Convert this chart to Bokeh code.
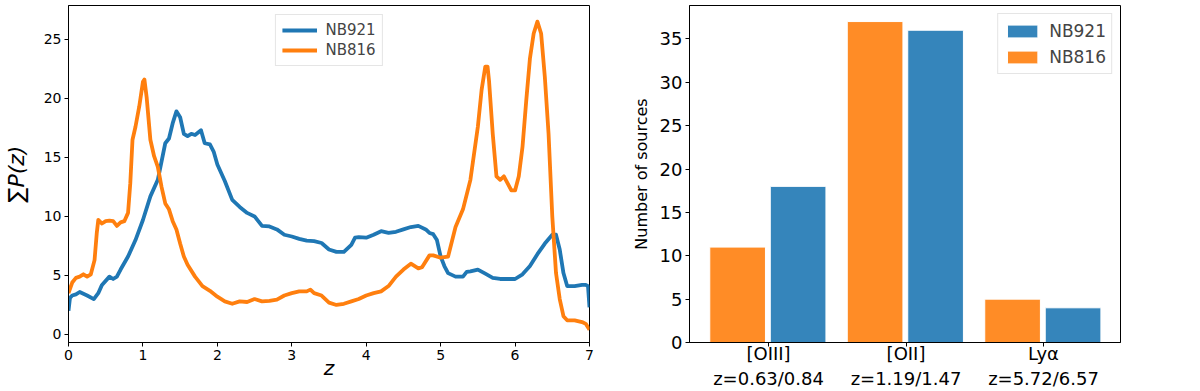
from bokeh.plotting import figure
from bokeh.layouts import row
from bokeh.models import FixedTicker, Range1d, Legend, LegendItem
from bokeh.embed import file_html
from bokeh.resources import INLINE

# ---- left panel data: summed P(z) ----
nb921_z = [0, 0.02, 0.05, 0.1, 0.15, 0.25, 0.34, 0.4, 0.45, 0.55, 0.6, 0.65, 0.7, 0.8, 0.9,
           1.0, 1.1, 1.2, 1.3, 1.35, 1.4, 1.45, 1.5, 1.55, 1.6, 1.65, 1.7, 1.78, 1.83, 1.9,
           1.95, 2.0, 2.1, 2.2, 2.3, 2.4, 2.5, 2.6, 2.7, 2.8, 2.9, 3.0, 3.1, 3.2, 3.3,
           3.4, 3.5, 3.6, 3.7, 3.8, 3.85, 3.9, 4.0, 4.1, 4.2, 4.3, 4.4, 4.5, 4.6, 4.7,
           4.8, 4.85, 4.9, 4.95, 5.0, 5.05, 5.1, 5.2, 5.3, 5.35, 5.4, 5.5, 5.6, 5.7, 5.8,
           5.9, 6.0, 6.1, 6.2, 6.3, 6.4, 6.5, 6.55, 6.6, 6.65, 6.7, 6.8, 6.9, 6.95, 6.98, 7.0]
nb921_pz = [2.0, 3.1, 3.3, 3.4, 3.6, 3.3, 3.0, 3.5, 4.2, 4.9, 4.7, 4.9, 5.5, 6.6, 8.0,
            9.7, 11.7, 13.1, 16.2, 16.6, 17.9, 18.9, 18.4, 17.0, 16.8, 17.0, 16.9, 17.3, 16.2, 16.1,
            15.5, 14.4, 13.0, 11.4, 10.8, 10.3, 10.0, 9.2, 9.15, 8.9, 8.45, 8.3, 8.1, 7.95, 7.9,
            7.75, 7.2, 7.0, 7.0, 7.6, 8.2, 8.25, 8.2, 8.45, 8.75, 8.6, 8.7, 8.9, 9.1, 9.2,
            8.9, 8.6, 8.5, 8.0, 6.6, 5.8, 5.2, 4.9, 4.9, 5.3, 5.35, 5.5, 5.15, 4.8, 4.7,
            4.7, 4.7, 5.1, 5.8, 6.8, 7.7, 8.45, 8.45, 7.2, 5.2, 4.1, 4.1, 4.2, 4.2, 4.1, 2.3]

nb816_z = [0, 0.05, 0.1, 0.15, 0.2, 0.25, 0.3, 0.35, 0.38, 0.4, 0.45, 0.5, 0.55, 0.6, 0.65,
           0.7, 0.75, 0.8, 0.83, 0.86, 0.9, 0.95, 1.0, 1.02, 1.05, 1.1, 1.15, 1.2, 1.25, 1.3,
           1.35, 1.4, 1.45, 1.5, 1.55, 1.6, 1.7, 1.8, 1.9, 2.0, 2.1, 2.2, 2.3, 2.4, 2.5,
           2.6, 2.7, 2.8, 2.9, 3.0, 3.1, 3.2, 3.25, 3.3, 3.4, 3.5, 3.6, 3.7, 3.8, 3.9,
           4.0, 4.1, 4.2, 4.3, 4.4, 4.5, 4.6, 4.7, 4.75, 4.85, 4.9, 5.0, 5.1, 5.2, 5.3,
           5.4, 5.5, 5.55, 5.6, 5.63, 5.65, 5.7, 5.75, 5.8, 5.85, 5.9, 5.95, 6.0, 6.05, 6.1,
           6.15, 6.2, 6.25, 6.3, 6.35, 6.4, 6.45, 6.5, 6.55, 6.6, 6.65, 6.7, 6.8, 6.9, 6.95, 7.0]
nb816_pz = [3.5, 4.4, 4.8, 4.9, 5.1, 4.9, 5.1, 6.3, 8.6, 9.7, 9.4, 9.6, 9.65, 9.6, 9.2,
            9.5, 9.6, 10.3, 12.8, 16.5, 17.6, 19.3, 21.4, 21.6, 20.1, 16.5, 15.1, 14.2, 12.5, 11.1,
            10.6, 9.6, 8.9, 7.7, 6.6, 5.9, 4.9, 4.1, 3.7, 3.2, 2.8, 2.6, 2.8, 2.75, 3.0,
            2.8, 2.85, 2.95, 3.3, 3.5, 3.65, 3.65, 3.8, 3.5, 3.3, 2.7, 2.5, 2.6, 2.8, 3.0,
            3.3, 3.5, 3.65, 4.1, 4.9, 5.5, 6.0, 5.6, 5.7, 6.7, 6.7, 6.5, 6.6, 9.1, 10.6,
            13.1, 17.6, 20.7, 22.7, 22.7, 21.5, 17.0, 13.4, 13.1, 13.4, 12.8, 12.2, 12.2, 13.4, 15.9,
            19.8, 23.4, 25.5, 26.5, 25.5, 21.8, 17.0, 10.0, 5.2, 3.0, 1.55, 1.2, 1.2, 1.05, 0.9, 0.4]

z_ticks = [0, 1, 2, 3, 4, 5, 6, 7]
pz_ticks = [0, 5, 10, 15, 20, 25]

# ---- right panel data: number of sources ----
lines = ["[OIII]\nz=0.63/0.84", "[OII]\nz=1.19/1.47", "Ly\u03b1\nz=5.72/6.57"]
nb816_counts = [11, 37, 5]
nb921_counts = [18, 36, 4]
count_ticks = [0, 5, 10, 15, 20, 25, 30, 35]

FONT = "DejaVu Sans"
BLUE = "#1f77b4"
ORANGE = "#ff7f0e"


def style_axes(p, tick_size):
    for ax in (p.xaxis[0], p.yaxis[0]):
        ax.axis_line_color = "black"
        ax.axis_line_width = 1
        ax.major_tick_line_color = "black"
        ax.major_tick_in = 0
        ax.major_tick_out = 4
        ax.minor_tick_line_color = None
        ax.major_label_text_font = FONT
        ax.major_label_text_font_size = tick_size
        ax.major_label_text_color = "black"
        ax.axis_label_text_font = FONT
        ax.axis_label_text_color = "black"
        ax.major_label_standoff = 3
    p.xgrid.visible = False
    p.ygrid.visible = False
    p.outline_line_color = "black"
    p.outline_line_width = 1
    p.outline_line_alpha = 1
    p.background_fill_color = "white"
    p.border_fill_color = "white"


# ---------------- left panel ----------------
p1 = figure(width=600, height=391, output_backend="svg", toolbar_location=None,
            x_range=Range1d(0, 7), y_range=Range1d(-0.68, 27.87),
            min_border_left=68, min_border_right=11, min_border_top=5, min_border_bottom=48)
style_axes(p1, "14px")
p1.xaxis.ticker = FixedTicker(ticks=z_ticks)
p1.yaxis.ticker = FixedTicker(ticks=pz_ticks)
p1.xaxis.axis_label = "z"
p1.xaxis.axis_label_text_font_style = "italic"
p1.xaxis.axis_label_text_font_size = "20px"
p1.xaxis.axis_label_standoff = -7
p1.yaxis.axis_label = "\u2211P(z)"
p1.yaxis.axis_label_text_font_style = "italic"
p1.yaxis.axis_label_text_font_size = "22px"
p1.yaxis.axis_label_standoff = 12

r921 = p1.line(nb921_z, nb921_pz, line_width=3.8, color=BLUE, line_join="round")
r816 = p1.line(nb816_z, nb816_pz, line_width=3.8, color=ORANGE, line_join="round")

leg1 = Legend(items=[LegendItem(label="NB921", renderers=[r921]),
                     LegendItem(label="NB816", renderers=[r816])],
              location="top_center", orientation="vertical")
leg1.margin = 9
leg1.padding = 6
leg1.spacing = 2
leg1.glyph_width = 35
leg1.glyph_height = 18
leg1.label_height = 18
leg1.label_standoff = 9
leg1.label_text_font = FONT
leg1.label_text_font_size = "15px"
leg1.border_line_color = "#cccccc"
leg1.border_line_width = 1
leg1.background_fill_alpha = 0.8
p1.add_layout(leg1)

# ---------------- right panel ----------------
p2 = figure(width=600, height=391, output_backend="svg", toolbar_location=None,
            x_range=Range1d(-0.575, 2.56), y_range=Range1d(0, 38.85),
            min_border_left=89, min_border_right=80, min_border_top=5, min_border_bottom=48)
style_axes(p2, "18px")
idx = list(range(len(lines)))
p2.xaxis.ticker = FixedTicker(ticks=idx)
p2.xaxis.major_label_overrides = {i: lab for i, lab in zip(idx, lines)}
p2.xaxis.major_label_text_font_size = "18px"
p2.xaxis.major_label_standoff = -4
p2.yaxis.ticker = FixedTicker(ticks=count_ticks)
p2.yaxis.axis_label = "Number of sources"
p2.yaxis.axis_label_text_font_size = "16px"
p2.yaxis.axis_label_text_font_style = "normal"
p2.yaxis.axis_label_standoff = 6

x816 = [i - 0.225 for i in idx]
x921 = [i + 0.215 for i in idx]
b816 = p2.vbar(x=x816, top=nb816_counts, width=0.405, bottom=0,
               fill_color="#ff8c26", line_color="white", line_width=1)
b921 = p2.vbar(x=x921, top=nb921_counts, width=0.405, bottom=0,
               fill_color="#3585bb", line_color="white", line_width=1)

leg2 = Legend(items=[LegendItem(label="NB921", renderers=[b921]),
                     LegendItem(label="NB816", renderers=[b816])],
              location="top_right", orientation="vertical")
leg2.margin = 8
leg2.padding = 5
leg2.spacing = 3
leg2.glyph_width = 38
leg2.glyph_height = 16
leg2.label_height = 23
leg2.label_standoff = 8
leg2.label_text_font = FONT
leg2.label_text_font_size = "17px"
leg2.border_line_color = "#cccccc"
leg2.border_line_width = 1
leg2.background_fill_alpha = 0.8
p2.add_layout(leg2)

layout = row(p1, p2)
open("out.html", "w").write(file_html(layout, INLINE))
